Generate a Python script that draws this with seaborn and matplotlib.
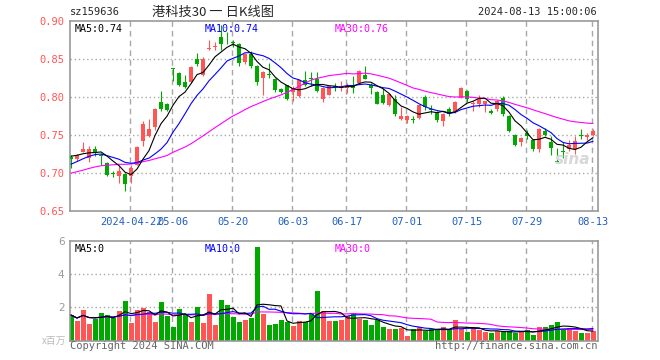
import numpy as np
import pandas as pd
import matplotlib
matplotlib.use("Agg")
import matplotlib.pyplot as plt
import seaborn as sns

# ---------------------------------------------------------------------------
# Data
# ---------------------------------------------------------------------------
holidays = ["2024-05-01", "2024-05-02", "2024-05-03", "2024-06-10"]

open_ = [0.721, 0.718, 0.728, 0.720, 0.731, 0.723, 0.713, 0.700, 0.696, 0.698,
         0.696, 0.711, 0.742, 0.748, 0.760, 0.793, 0.791, 0.837, 0.831, 0.819,
         0.819, 0.850, 0.829, 0.863, 0.866, 0.878, 0.875, 0.872, 0.869, 0.846,
         0.856, 0.841, 0.825, 0.830, 0.824, 0.810, 0.815, 0.806, 0.801, 0.822,
         0.824, 0.824, 0.797, 0.803, 0.814, 0.811, 0.812, 0.816, 0.818, 0.829,
         0.816, 0.806, 0.802, 0.789, 0.797, 0.771, 0.769, 0.770, 0.772, 0.800,
         0.784, 0.780, 0.768, 0.784, 0.780, 0.799, 0.808, 0.790, 0.790, 0.791,
         0.782, 0.784, 0.799, 0.775, 0.750, 0.740, 0.753, 0.743, 0.732, 0.755,
         0.740, 0.716, 0.728, 0.731, 0.732, 0.749, 0.747, 0.750]
high = [0.724, 0.725, 0.741, 0.736, 0.736, 0.726, 0.715, 0.703, 0.709, 0.700,
        0.710, 0.735, 0.768, 0.771, 0.785, 0.808, 0.792, 0.838, 0.832, 0.829,
        0.840, 0.857, 0.852, 0.875, 0.872, 0.894, 0.885, 0.875, 0.871, 0.857,
        0.860, 0.842, 0.834, 0.845, 0.825, 0.811, 0.816, 0.814, 0.823, 0.834,
        0.832, 0.832, 0.813, 0.815, 0.818, 0.821, 0.818, 0.828, 0.835, 0.841,
        0.818, 0.807, 0.811, 0.805, 0.802, 0.787, 0.776, 0.775, 0.790, 0.802,
        0.789, 0.781, 0.779, 0.787, 0.794, 0.813, 0.809, 0.794, 0.802, 0.795,
        0.784, 0.796, 0.801, 0.776, 0.751, 0.747, 0.757, 0.744, 0.759, 0.759,
        0.749, 0.733, 0.740, 0.743, 0.749, 0.758, 0.752, 0.758]
low = [0.706, 0.716, 0.727, 0.714, 0.722, 0.711, 0.696, 0.695, 0.687, 0.676,
       0.687, 0.710, 0.736, 0.747, 0.757, 0.781, 0.781, 0.821, 0.814, 0.812,
       0.818, 0.840, 0.828, 0.862, 0.862, 0.862, 0.869, 0.866, 0.840, 0.843,
       0.838, 0.816, 0.803, 0.825, 0.806, 0.805, 0.796, 0.795, 0.800, 0.814,
       0.814, 0.806, 0.793, 0.802, 0.808, 0.807, 0.805, 0.805, 0.817, 0.823,
       0.804, 0.790, 0.790, 0.788, 0.775, 0.770, 0.766, 0.765, 0.771, 0.783,
       0.778, 0.767, 0.762, 0.775, 0.779, 0.798, 0.793, 0.781, 0.787, 0.780,
       0.777, 0.781, 0.775, 0.754, 0.736, 0.736, 0.744, 0.729, 0.727, 0.748,
       0.724, 0.713, 0.720, 0.729, 0.725, 0.745, 0.743, 0.749]
close = [0.718, 0.724, 0.732, 0.732, 0.728, 0.722, 0.697, 0.699, 0.702, 0.685,
         0.706, 0.734, 0.764, 0.758, 0.784, 0.784, 0.783, 0.836, 0.815, 0.813,
         0.839, 0.843, 0.850, 0.864, 0.867, 0.870, 0.874, 0.871, 0.845, 0.856,
         0.840, 0.820, 0.833, 0.829, 0.809, 0.806, 0.797, 0.812, 0.822, 0.816,
         0.823, 0.808, 0.812, 0.814, 0.813, 0.814, 0.814, 0.812, 0.834, 0.824,
         0.812, 0.791, 0.792, 0.804, 0.778, 0.775, 0.775, 0.769, 0.789, 0.786,
         0.783, 0.769, 0.778, 0.778, 0.793, 0.812, 0.797, 0.791, 0.797, 0.794,
         0.779, 0.794, 0.777, 0.755, 0.737, 0.746, 0.748, 0.732, 0.758, 0.750,
         0.733, 0.715, 0.727, 0.737, 0.742, 0.748, 0.750, 0.755]

# closes before the visible window, backed out from where the MA lines start
prior_close = [0.672, 0.668, 0.665, 0.670, 0.675, 0.678, 0.680, 0.682, 0.688, 0.692,
               0.700, 0.705, 0.712, 0.718, 0.722, 0.715, 0.710, 0.708, 0.712, 0.708,
               0.690, 0.695, 0.700, 0.705, 0.715, 0.718, 0.722, 0.726, 0.726]

# volume, millions of units
volume = [1.54, 1.18, 1.84, 1.00, 1.30, 1.66, 1.54, 1.34, 1.78, 2.38,
          1.08, 1.84, 1.98, 1.70, 1.12, 2.32, 1.48, 0.82, 1.90, 1.58,
          1.12, 2.04, 1.06, 2.80, 0.96, 2.44, 2.14, 1.42, 1.12, 1.24,
          1.36, 5.62, 1.60, 0.96, 1.00, 1.24, 1.12, 0.90, 1.18, 1.12,
          1.66, 2.98, 1.78, 1.18, 1.18, 1.24, 1.48, 1.64, 1.30, 1.24,
          0.94, 1.24, 0.84, 0.70, 0.70, 0.74, 0.30, 0.70, 0.80, 0.60,
          0.70, 0.62, 0.82, 0.70, 1.24, 0.70, 0.54, 0.74, 0.64, 0.54,
          0.48, 0.58, 0.50, 0.58, 0.48, 0.58, 0.62, 0.36, 0.82, 0.82,
          0.94, 1.12, 0.70, 0.74, 0.60, 0.48, 0.48, 0.58]

tick_dates = ["2024-04-22", "2024-05-06", "2024-05-20", "2024-06-03", "2024-06-17",
              "2024-07-01", "2024-07-15", "2024-07-29", "2024-08-13"]
tick_labels = ["2024-04-22", "05-06", "05-20", "06-03", "06-17",
               "07-01", "07-15", "07-29", "08-13"]
price_ticks = [0.65, 0.70, 0.75, 0.80, 0.85, 0.90]
vol_ticks = [2, 4, 6]

# ---------------------------------------------------------------------------
# Frame
# ---------------------------------------------------------------------------
days = pd.bdate_range("2024-04-08", "2024-08-13")
days = days[~days.isin(pd.to_datetime(holidays))]
df = pd.DataFrame({"date": days, "open": open_, "high": high, "low": low,
                   "close": close, "volume": volume})
df["x"] = np.arange(len(df))

full_close = pd.Series(prior_close + close)
n_prior = len(prior_close)
for w in (5, 10, 30):
    df[f"ma{w}"] = full_close.rolling(w).mean().iloc[n_prior:].values
    df[f"vma{w}"] = df["volume"].rolling(w, min_periods=1).mean()

RED = "#ff5555"
GREEN = "#00a800"
GRID = "#a8a8a8"
up = df["close"] >= df["open"]
colors = np.where(up, RED, GREEN)

sns.set_style("white")
plt.rcParams["font.family"] = ["DejaVu Sans Mono", "Noto Sans CJK SC"]

fig = plt.figure(figsize=(6.6, 3.6), dpi=100)
ax = fig.add_axes([70 / 660, 1 - 211 / 360, 528 / 660, 190.3 / 360])
axv = fig.add_axes([70 / 660, 1 - 340.7 / 360, 528 / 660, 100 / 360])

xmin, xmax = -0.17, 87.83
tick_pos = [int(df.index[df["date"] == pd.Timestamp(d)][0]) for d in tick_dates]

# ---------------------------------------------------------------------------
# Price panel
# ---------------------------------------------------------------------------
for p in price_ticks[1:-1]:
    ax.axhline(p, color=GRID, lw=1, ls=(0, (1, 2)), zorder=0)
for p in tick_pos:
    ax.axvline(p - 0.15, color=GRID, lw=1, ls=(0, (4, 3)), zorder=0)

ax.vlines(df["x"], df["low"], df["high"], colors=colors, lw=0.8, zorder=2)
body = np.maximum((df["close"] - df["open"]).abs(), 0.0013)
ax.bar(df["x"], body, bottom=np.minimum(df["open"], df["close"]),
       width=0.82, color=colors, lw=0, zorder=3)

for col, c in (("ma30", "#ff00ff"), ("ma10", "#0000ff"), ("ma5", "#000000")):
    sns.lineplot(data=df, x="x", y=col, ax=ax, color=c, lw=0.8, zorder=4)

ax.set_xlim(xmin, xmax)
ax.set_ylim(0.65, 0.90)
ax.set_yticks(price_ticks)
ax.set_yticklabels([f"{p:.2f}" for p in price_ticks], fontsize=7.5, color=RED)
ax.set_xticks(tick_pos)
ax.set_xticklabels(tick_labels, fontsize=7.5, color="#1f5fbf")
ax.tick_params(length=0, pad=4)
ax.set_xlabel("")
ax.set_ylabel("")

ax.text(0.008, 0.985, "MA5:0.74", transform=ax.transAxes, fontsize=7.2,
        color="black", va="top")
ax.text(0.255, 0.985, "MA10:0.74", transform=ax.transAxes, fontsize=7.2,
        color="#0000ff", va="top")
ax.text(0.501, 0.985, "MA30:0.76", transform=ax.transAxes, fontsize=7.2,
        color="#ff00ff", va="top")
ax.text(0.985, 0.27, "sina", transform=ax.transAxes, fontsize=11,
        color="#d8d8d8", ha="right", va="center", style="italic",
        fontweight="bold", family="DejaVu Sans")

# ---------------------------------------------------------------------------
# Volume panel
# ---------------------------------------------------------------------------
for v in vol_ticks[:-1]:
    axv.axhline(v, color=GRID, lw=1, ls=(0, (1, 2)), zorder=0)
for p in tick_pos:
    axv.axvline(p - 0.15, color=GRID, lw=1, ls=(0, (4, 3)), zorder=0)

axv.bar(df["x"], df["volume"], width=0.84, color=colors, lw=0, zorder=2)
for col, c in (("vma30", "#ff00ff"), ("vma10", "#0000ff"), ("vma5", "#000000")):
    sns.lineplot(data=df, x="x", y=col, ax=axv, color=c, lw=0.8, zorder=4)

axv.set_xlim(xmin, xmax)
axv.set_ylim(0, 6)
axv.set_yticks(vol_ticks)
axv.set_yticklabels([str(v) for v in vol_ticks], fontsize=7.5, color="#999999",
                    family="DejaVu Sans")
axv.set_xticks([])
axv.tick_params(length=0, pad=4)
axv.set_xlabel("")
axv.set_ylabel("")

axv.text(0.008, 0.97, "MA5:0", transform=axv.transAxes, fontsize=7.2,
         color="black", va="top")
axv.text(0.255, 0.97, "MA10:0", transform=axv.transAxes, fontsize=7.2,
         color="#0000ff", va="top")
axv.text(0.501, 0.97, "MA30:0", transform=axv.transAxes, fontsize=7.2,
         color="#ff00ff", va="top")

for a in (ax, axv):
    for s in a.spines.values():
        s.set_color("#999999")
        s.set_linewidth(1.2)

# ---------------------------------------------------------------------------
# Header / footer text
# ---------------------------------------------------------------------------
fig.text(70 / 660, 1 - 12 / 360, "sz159636", fontsize=7.5, va="center")
fig.text(213 / 660, 1 - 12 / 360, "港科技30 一 日K线图", fontsize=9.5,
         ha="center", va="center", family=["Noto Sans CJK SC", "DejaVu Sans"])
fig.text(597 / 660, 1 - 12 / 360, "2024-08-13 15:00:06", fontsize=7.5,
         ha="right", va="center")
fig.text(66 / 660, 1 - 341 / 360, "x百万", fontsize=7, ha="right", va="center",
         color="#bbbbbb", family=["Noto Sans CJK SC", "DejaVu Sans"])
fig.text(70 / 660, 1 - 346 / 360, "Copyright 2024 SINA.COM", fontsize=7.5,
         va="center", color="#666666")
fig.text(597 / 660, 1 - 346 / 360, "http://finance.sina.com.cn", fontsize=7.5,
         ha="right", va="center", color="#666666")

fig.savefig("out.png", dpi=100)
